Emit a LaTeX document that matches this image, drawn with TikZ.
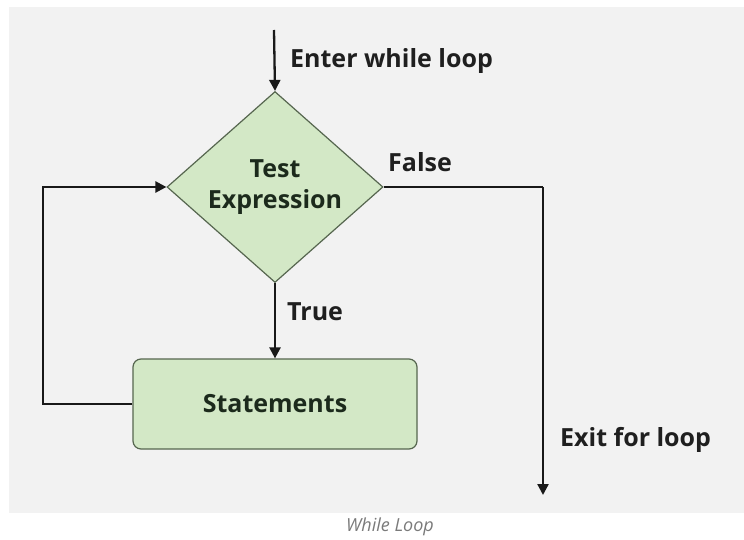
\documentclass[tikz,border=0pt]{standalone}
\usepackage{fontspec}
\setmainfont{Open Sans}
\usetikzlibrary{shapes.geometric,arrows.meta}
\definecolor{bgray}{HTML}{F2F2F2}
\definecolor{gfill}{HTML}{D3E8C6}
\definecolor{gline}{HTML}{56664F}
\definecolor{gtext}{HTML}{1C2A1C}
\definecolor{capgray}{HTML}{7A7A7A}
\tikzset{
  conn/.style={line width=2.3pt, draw=black!90},
  arr/.style={conn, -{Triangle[length=11pt,width=11pt]}},
  lbl/.style={font=\fontsize{25}{28}\selectfont\bfseries, text=black!88, inner sep=0pt},
  shapetext/.style={font=\fontsize{25}{31}\selectfont\bfseries, text=gtext},
}
\begin{document}
\begin{tikzpicture}[x=1pt,y=-1pt]
\useasboundingbox (0,0) rectangle (744,540);
\fill[white] (0,0) rectangle (744,540);
\fill[bgray] (9,7) rectangle (744,513);
% nodes
\node[diamond, draw=gline, line width=1.2pt, fill=gfill, minimum width=216pt, minimum height=191pt, inner sep=0pt, aspect=1.13, shapetext, align=center] (test) at (275,187) {\raisebox{-3pt}{Test}\\\raisebox{-3pt}{Expression}};
\node[rectangle, rounded corners=8pt, draw=gline, line width=1.2pt, fill=gfill, minimum width=284pt, minimum height=90pt, shapetext] (stmt) at (275,404) {Statements};
\coordinate (start) at (274,30);
\coordinate (exit) at (543,495);
\coordinate (fr) at (543,187);
\coordinate (tl) at (43,187);
% connectors
\draw[arr] (start) -- (test.north);
\draw[arr] (test.south) -- (stmt.north);
\draw[conn] (test.east) -- (fr);
\draw[arr] (fr) -- (exit);
\draw[arr] (stmt.west) -- (stmt.west -| tl) -- (tl) -- (test.west);
% labels
\node[lbl, anchor=west] (enter) at (290,61) {Enter while loop};
\node[lbl, anchor=west] (false) at (388,162) {False};
\node[lbl, anchor=west] (true) at (287,312) {True};
\node[lbl, anchor=west] (exitl) at (560,440) {Exit for loop};
\node[font=\fontsize{18}{20}\selectfont\itshape, text=capgray, inner sep=0pt] (cap) at (390,527) {While Loop};
\end{tikzpicture}
\end{document}
